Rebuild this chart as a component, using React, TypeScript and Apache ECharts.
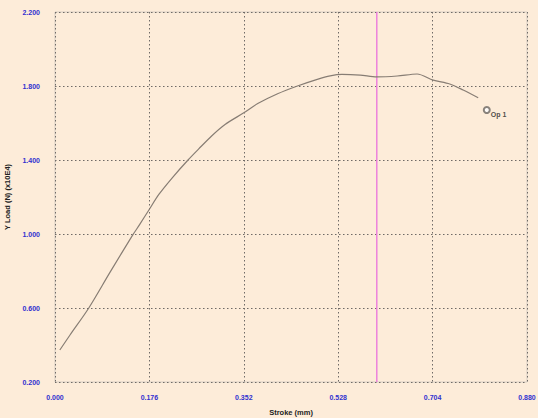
import React, { useEffect, useRef } from "react";
import * as echarts from "echarts";

const strokeMm: number[] = [
  0.009, 0.028, 0.063, 0.103, 0.145, 0.158, 0.176, 0.194, 0.219, 0.248, 0.268,
  0.292, 0.317, 0.352, 0.378, 0.415, 0.452, 0.489, 0.513, 0.535, 0.569, 0.6,
  0.638, 0.675, 0.705, 0.736, 0.761, 0.789,
];
const yLoad: number[] = [
  0.373, 0.454, 0.6, 0.795, 0.995, 1.052, 1.134, 1.215, 1.305, 1.4, 1.46, 1.53,
  1.592, 1.655, 1.705, 1.758, 1.8, 1.836, 1.855, 1.863, 1.859, 1.849, 1.854,
  1.865, 1.832, 1.811, 1.778, 1.736,
];
const opPoint: number[] = [0.805, 1.67];
const opLabel = "Op 1";
const cursorX = 0.6;
const xTicks = { min: 0, max: 0.88, interval: 0.176 };
const yTicks = { min: 0.2, max: 2.2, interval: 0.4 };
const xName = "Stroke (mm)";
const yName = "Y Load (N) (x10E4)";

export default function App() {
  const ref = useRef<HTMLDivElement>(null);
  useEffect(() => {
    if (!ref.current) return;
    const chart = echarts.init(ref.current, undefined, { renderer: "svg" });
    const font = "Arial, 'Liberation Sans', sans-serif";
    const gridLine = {
      show: true,
      lineStyle: { color: "#6f6a66", type: [1.5, 2.5] as any, width: 1 },
    };
    chart.setOption({
      animation: false,
      backgroundColor: "#fdecd9",
      grid: {
        left: 55,
        top: 12,
        right: 11,
        bottom: 36,
        containLabel: false,
        outerBoundsMode: "none",
        show: true,
        borderColor: "#d6cdc3",
        borderWidth: 1,
        backgroundColor: "transparent",
      },
      xAxis: {
        type: "value",
        min: xTicks.min,
        max: xTicks.max,
        interval: xTicks.interval,
        name: xName,
        nameLocation: "middle",
        nameGap: 26,
        nameTextStyle: { color: "#222", fontWeight: "bold", fontSize: 7.5, fontFamily: font },
        axisLine: { show: false },
        axisTick: { show: false },
        axisLabel: {
          color: "#3030d0",
          fontWeight: "bold",
          fontSize: 7,
          fontFamily: font,
          margin: 12,
          formatter: (v: number) => v.toFixed(3),
        },
        splitLine: gridLine,
      },
      yAxis: {
        type: "value",
        min: yTicks.min,
        max: yTicks.max,
        interval: yTicks.interval,
        name: yName,
        nameLocation: "middle",
        nameGap: 44,
        nameRotate: 90,
        nameTextStyle: { color: "#222", fontWeight: "bold", fontSize: 7.5, fontFamily: font },
        axisLine: { show: false },
        axisTick: { show: false },
        axisLabel: {
          color: "#3030d0",
          fontWeight: "bold",
          fontSize: 7,
          fontFamily: font,
          margin: 15,
          formatter: (v: number) => v.toFixed(3),
        },
        splitLine: gridLine,
      },
      series: [
        {
          type: "line",
          data: [
            [cursorX, yTicks.min],
            [cursorX, yTicks.max],
          ],
          showSymbol: false,
          silent: true,
          lineStyle: { color: "#ea72dc", width: 1.3 },
          itemStyle: { color: "#ea72dc" },
          z: 1,
        },
        {
          type: "line",
          data: strokeMm.map((x, i) => [x, yLoad[i]]),
          showSymbol: false,
          smooth: 0.3,
          lineStyle: { color: "#877d74", width: 1.2 },
          itemStyle: { color: "#877d74" },
          z: 2,
        },
        {
          type: "scatter",
          data: [opPoint],
          symbol: "emptyCircle",
          symbolSize: 6,
          itemStyle: { color: "#6a6560", borderWidth: 1 },
          label: {
            show: true,
            formatter: opLabel,
            position: [8, 5],
            color: "#222",
            fontWeight: "bold",
            fontSize: 7,
            fontFamily: font,
          },
          z: 3,
        },
      ],
    });
    return () => chart.dispose();
  }, []);
  return (
    <div
      ref={ref}
      style={{
        position: "fixed",
        left: 0,
        top: 0,
        width: 538,
        height: 418,
        background: "#fdecd9",
      }}
    />
  );
}
